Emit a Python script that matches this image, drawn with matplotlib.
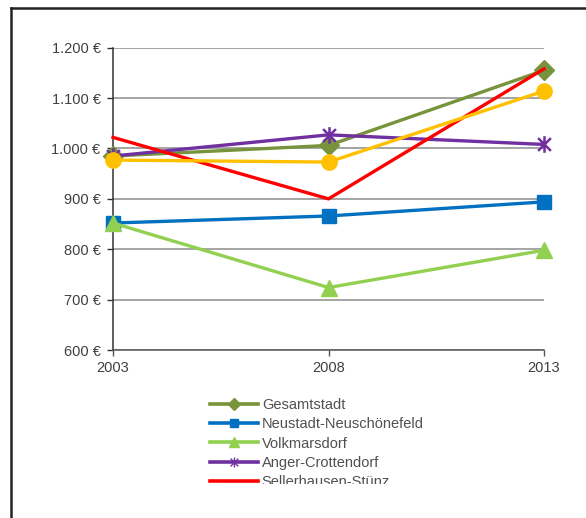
import numpy as np
import matplotlib
matplotlib.use("Agg")
from matplotlib import pyplot as plt
from matplotlib.lines import Line2D
from matplotlib.patches import Rectangle
from matplotlib.path import Path
from matplotlib.ticker import FuncFormatter

plt.rcParams['font.family'] = ['Liberation Sans', 'DejaVu Sans']

years = [2003, 2008, 2013]
gesamtstadt = [985, 1006, 1155]
neustadt = [852, 866, 894]
volkmarsdorf = [852, 724, 798]
anger = [985, 1027, 1008]
sellerhausen = [1022, 900, 1158]
yellow_series = [977, 973, 1114]

labels = ["Gesamtstadt", "Neustadt-Neuschönefeld", "Volkmarsdorf",
          "Anger-Crottendorf", "Sellerhausen-Stünz"]
colors = ["#77933C", "#0070C0", "#92D050", "#7030A0", "#FF0000", "#FFC000"]
y_ticks = [600, 700, 800, 900, 1000, 1100, 1200]

# excel style star: x plus vertical bar
star = Path([(-1, -1), (1, 1), (-1, 1), (1, -1), (0, -1.3), (0, 1.3)],
            [Path.MOVETO, Path.LINETO, Path.MOVETO, Path.LINETO, Path.MOVETO, Path.LINETO])


def euro(v, pos):
    s = "{:,.0f}".format(v).replace(",", ".")
    return s + " €"


fig = plt.figure(figsize=(5.86, 5.18), dpi=100)
ax = fig.add_axes([113 / 586, 1 - 350 / 518, (544 - 113) / 586, (350 - 47.7) / 518])

series = [
    (gesamtstadt, "D", 10, colors[0]),
    (neustadt, "s", 10, colors[1]),
    (volkmarsdorf, "^", 11, colors[2]),
    (anger, star, 12, colors[3]),
    (sellerhausen, None, 0, colors[4]),
    (yellow_series, "o", 11, colors[5]),
]
for i, (vals, m, ms, c) in enumerate(series):
    ax.plot(years, vals, color=c, lw=2.4, marker=m, ms=ms, mfc=c, mec=c,
            mew=1.8 if m is star else 1, clip_on=False, zorder=3 + i)

ax.set_xlim(2003, 2013)
ax.set_ylim(600, 1200)
ax.set_xticks(years)
ax.set_yticks(y_ticks)
ax.yaxis.set_major_formatter(FuncFormatter(euro))
ax.grid(axis="y", color="#8c8c8c", lw=1.1)
ax.set_axisbelow(True)
for s in ["top", "right"]:
    ax.spines[s].set_visible(False)
ax.spines["left"].set_color("#333333")
ax.spines["bottom"].set_color("#555555")
ax.spines["left"].set_linewidth(1.1)
ax.spines["bottom"].set_linewidth(1.1)
ax.tick_params(axis="y", length=4, width=1, color="#333333", labelsize=10.5,
               labelcolor="#404040", pad=5)
ax.tick_params(axis="x", length=4, width=1, color="#555555", labelsize=10.5,
               labelcolor="#404040", pad=4)

handles = []
for i, lab in enumerate(labels):
    m, ms, c = series[i][1], series[i][2], series[i][3]
    handles.append(Line2D([], [], color=c, lw=2.6, marker=m, ms=ms * 0.6,
                          mfc=c, mec=c, mew=1))
fig.legend(handles, labels, loc="upper left",
           bbox_to_anchor=(210 / 586, 1 - 398 / 518), frameon=False,
           fontsize=10.5, handlelength=3.3, handletextpad=0.25,
           labelspacing=0.36, borderaxespad=0, borderpad=0, labelcolor="#505050")

# legend is cut off at the bottom of the picture
fig.add_artist(Rectangle((15 / 586, 0), 1, 1 - 484 / 518, transform=fig.transFigure,
                         facecolor="white", edgecolor="none", zorder=20))

# outer frame (left and top only visible)
fig.add_artist(Line2D([11 / 586, 11 / 586], [0, 1 - 8 / 518], transform=fig.transFigure,
                      color="#222222", lw=1.8, zorder=21))
fig.add_artist(Line2D([11 / 586, 1], [1 - 8 / 518, 1 - 8 / 518], transform=fig.transFigure,
                      color="#222222", lw=1.8, zorder=21))

fig.savefig("out.png", dpi=100)
